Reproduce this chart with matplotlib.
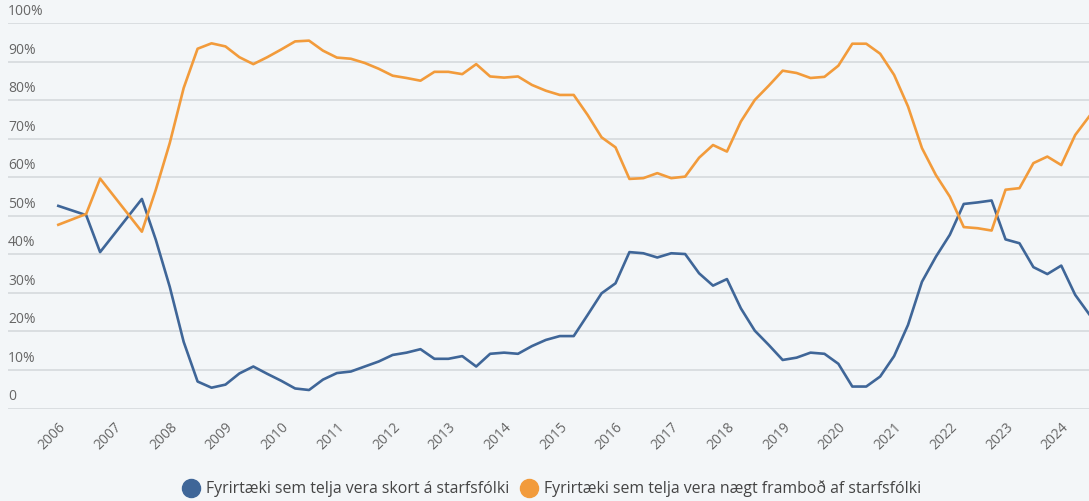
import matplotlib
matplotlib.use("Agg")
import matplotlib.pyplot as plt
from matplotlib.lines import Line2D

periods = [
    "2006Q1", "2006Q3", "2006Q4",
    "2007Q3", "2007Q4",
    "2008Q1", "2008Q2", "2008Q3", "2008Q4",
    "2009Q1", "2009Q2", "2009Q3", "2009Q4",
    "2010Q1", "2010Q2", "2010Q3", "2010Q4",
    "2011Q1", "2011Q2", "2011Q3", "2011Q4",
    "2012Q1", "2012Q2", "2012Q3", "2012Q4",
    "2013Q1", "2013Q2", "2013Q3", "2013Q4",
    "2014Q1", "2014Q2", "2014Q3", "2014Q4",
    "2015Q1", "2015Q2", "2015Q3", "2015Q4",
    "2016Q1", "2016Q2", "2016Q3", "2016Q4",
    "2017Q1", "2017Q2", "2017Q3", "2017Q4",
    "2018Q1", "2018Q2", "2018Q3", "2018Q4",
    "2019Q1", "2019Q2", "2019Q3", "2019Q4",
    "2020Q1", "2020Q2", "2020Q3", "2020Q4",
    "2021Q1", "2021Q2", "2021Q3", "2021Q4",
    "2022Q1", "2022Q2", "2022Q3", "2022Q4",
    "2023Q1", "2023Q2", "2023Q3", "2023Q4",
    "2024Q1", "2024Q2", "2024Q3",
]

skortur = [
    52.6, 50.2, 40.6,
    54.4, 43.8, 31.6, 17.3, 7.0,
    5.4, 6.2, 9.1, 10.9, 9.0,
    7.2, 5.2, 4.8, 7.5, 9.2,
    9.6, 10.9, 12.2, 13.9, 14.5,
    15.4, 12.9, 12.9, 13.6, 10.9,
    14.2, 14.5, 14.2, 16.2, 17.8,
    18.8, 18.8, 24.3, 29.9, 32.5,
    40.6, 40.3, 39.2, 40.3, 40.1,
    35.1, 31.9, 33.6, 26.0, 20.2,
    16.5, 12.6, 13.2, 14.5, 14.2,
    11.6, 5.7, 5.7, 8.3, 13.6,
    21.7, 32.9, 39.4, 45.1, 53.1,
    53.5, 54.0, 43.9, 42.9, 36.7,
    34.9, 37.1, 29.5, 24.5,
]

naegt = [
    47.7, 50.5, 59.7,
    45.9, 56.8, 68.9, 83.2, 93.4,
    94.8, 94.0, 91.2, 89.4, 91.2,
    93.2, 95.3, 95.5, 92.9, 91.1,
    90.8, 89.7, 88.2, 86.4, 85.8,
    85.1, 87.4, 87.4, 86.8, 89.4,
    86.2, 85.9, 86.2, 84.0, 82.5,
    81.4, 81.4, 76.2, 70.4, 67.8,
    59.6, 59.8, 61.1, 59.8, 60.2,
    65.1, 68.4, 66.7, 74.5, 80.1,
    83.8, 87.7, 87.1, 85.8, 86.1,
    89.0, 94.7, 94.7, 92.1, 86.6,
    78.4, 67.6, 60.6, 55.0, 47.1,
    46.8, 46.2, 56.8, 57.2, 63.7,
    65.4, 63.2, 71.0, 75.8,
]

year_ticks = list(range(2006, 2025))
y_ticks = [0, 10, 20, 30, 40, 50, 60, 70, 80, 90, 100]
series_names = ["Fyrirtæki sem telja vera skort á starfsfólki",
                "Fyrirtæki sem telja vera nægt framboð af starfsfólki"]

BLUE = "#3f6698"
ORANGE = "#f29b3b"
BG = "#f3f6f8"
GRID = "#d6dadd"
TXT = "#666666"

x = [int(p[:4]) + (int(p[5]) - 1) / 4 for p in periods]

plt.rcParams["font.family"] = ["Open Sans", "DejaVu Sans"]

fig = plt.figure(figsize=(10.89, 5.01), dpi=100, facecolor=BG)
W, H = 1089, 501
left_px, right_px, top_px, bottom_px = 8, 1089, 23.3, 408.5
ax = fig.add_axes([left_px / W, 1 - bottom_px / H,
                   (right_px - left_px) / W, (bottom_px - top_px) / H])
ax.set_facecolor(BG)

ax.plot(x, skortur, color=BLUE, lw=1.9, clip_on=False, zorder=3,
        solid_joinstyle="round")
ax.plot(x, naegt, color=ORANGE, lw=1.9, clip_on=False, zorder=3,
        solid_joinstyle="round")

px_per_year = 55.72
x0 = 2006 - (58.3 - left_px) / px_per_year
x1 = 2006 + (right_px - 58.3) / px_per_year
ax.set_xlim(x0, x1)
ax.set_ylim(0, 100)

for s in ax.spines.values():
    s.set_visible(False)

for yv in y_ticks:
    ax.axhline(yv, color=GRID, lw=1.2, zorder=1)
    lab = "0" if yv == 0 else f"{yv}%"
    ax.annotate(lab, xy=(0, yv), xycoords=("axes fraction", "data"),
                xytext=(0, 3), textcoords="offset points",
                ha="left", va="bottom", fontsize=10, color=TXT)

ax.set_yticks([])
ax.set_xticks(year_ticks)
ax.set_xticklabels([str(y) for y in year_ticks], rotation=45, ha="right",
                   rotation_mode="anchor", fontsize=10, color=TXT)
ax.tick_params(axis="x", length=0, pad=8)

handles = [Line2D([], [], marker="o", ls="none", markersize=13, color=BLUE),
           Line2D([], [], marker="o", ls="none", markersize=13, color=ORANGE)]
fig.legend(handles, series_names, loc="center", bbox_to_anchor=(0.507, 1 - 489 / H),
           ncol=2, frameon=False, fontsize=11.4, handletextpad=0.45,
           columnspacing=0.7, labelcolor="#444444", handlelength=1.0)

fig.savefig("out.png", dpi=100, facecolor=BG)
